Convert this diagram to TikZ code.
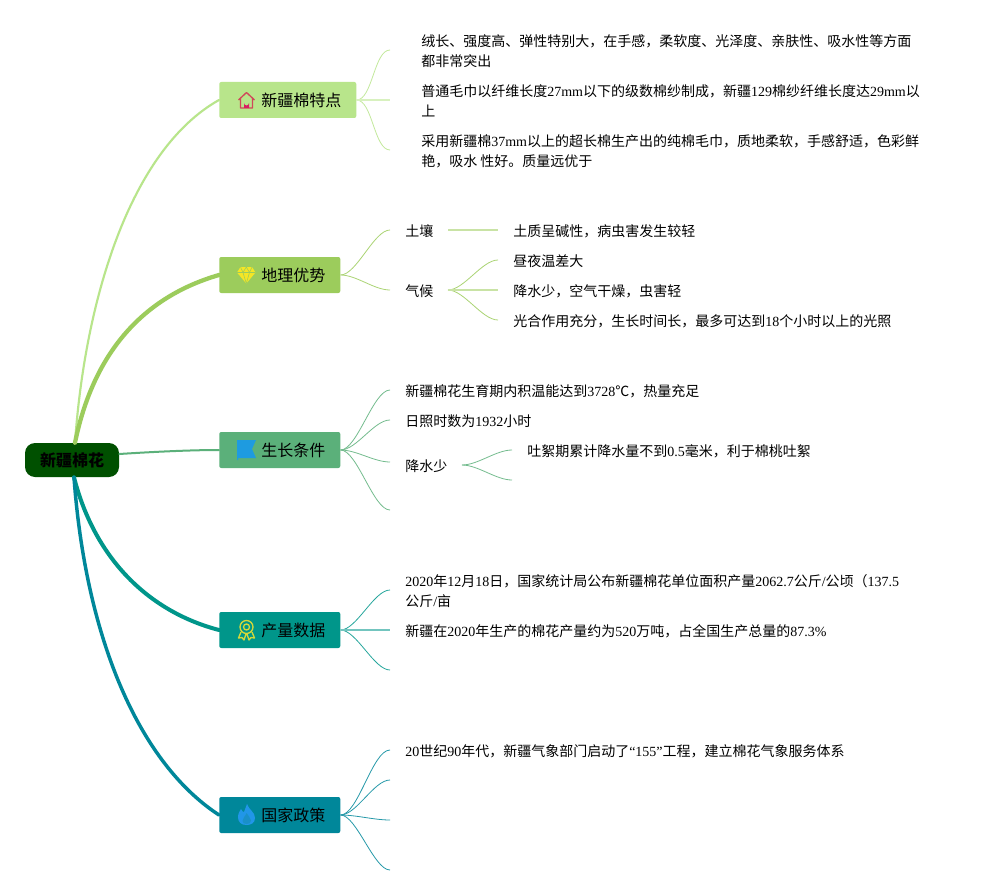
\documentclass[tikz,border=0pt]{standalone}
\usepackage{fontspec}
\setmainfont{Liberation Serif}
\newfontfamily\cjkfont{Noto Sans CJK SC}
\newcommand{\lat}[1]{{\rmfamily #1}}
\newcommand{\toptext}[1]{\kern31.5pt\raisebox{-1.1pt}{#1}\kern11.25pt}
\definecolor{ca}{HTML}{B8E58B}
\definecolor{cb}{HTML}{9CCC5C}
\definecolor{cc}{HTML}{5BB07A}
\definecolor{cd}{HTML}{00968A}
\definecolor{ce}{HTML}{00879A}
\definecolor{rootc}{HTML}{005000}
\definecolor{iconred}{HTML}{D0475A}
\definecolor{iconpink}{HTML}{D81B60}
\definecolor{iconyellow}{HTML}{F5E625}
\definecolor{iconblue}{HTML}{1E9BE0}
\definecolor{iconmedal}{HTML}{D4D83A}
\definecolor{iconflame}{HTML}{2196E8}
\definecolor{iconflamein}{HTML}{1A90C8}
\tikzset{
  rootbox/.style={draw=none,fill=rootc,rounded corners=7.5pt,minimum width=70.5pt,minimum height=25.5pt,inner sep=0pt,font=\cjkfont\bfseries\fontsize{12}{14}\selectfont,text=black},
  topic/.style={fill=#1,rounded corners=1.5pt,minimum height=27pt,inner sep=0pt,font=\cjkfont\fontsize{12}{14}\selectfont,text=black},
  leaf/.style={anchor=west,inner sep=0pt,align=left,font=\cjkfont\fontsize{10.5}{15}\selectfont,text=black},
  main/.style={draw=#1,line cap=round},
  sub/.style={draw=#1!85,line width=0.6pt,out=0,in=180,looseness=0.55,min distance=12pt},
  flat/.style={draw=#1!55,line width=1.2pt},
}
\begin{document}
\begin{tikzpicture}[x=0.75pt,y=-0.75pt]
\useasboundingbox (0,0) rectangle (981,895);
\fill[white] (0,0) rectangle (981,895);
% nodes
\node[rootbox] (root) at (72,460) {\raisebox{-0.75pt}{新疆棉花}};
\node[topic=ca,anchor=west] (t1) at (219,100) {\toptext{新疆棉特点}};
\node[topic=cb,anchor=west] (t2) at (219,275) {\toptext{地理优势}};
\node[topic=cc,anchor=west] (t3) at (219,450) {\toptext{生长条件}};
\node[topic=cd,anchor=west] (t4) at (219,630) {\toptext{产量数据}};
\node[topic=ce,anchor=west] (t5) at (219,815) {\toptext{国家政策}};
% leaves
\node[leaf] (a1) at (421,51) {绒长、强度高、弹性特别大，在手感，柔软度、光泽度、亲肤性、吸水性等方面\\都非常突出};
\node[leaf] (a2) at (421,101) {普通毛巾以纤维长度\lat{27mm}以下的级数棉纱制成，新疆\lat{129}棉纱纤维长度达\lat{29mm}以\\上};
\node[leaf] (a3) at (421,151) {采用新疆棉\lat{37mm}以上的超长棉生产出的纯棉毛巾，质地柔软，手感舒适，色彩鲜\\艳，吸水 性好。质量远优于};
\node[leaf] (b1) at (405,231) {土壤};
\node[leaf] (b2) at (405,291) {气候};
\node[leaf] (b11) at (513,231) {土质呈碱性，病虫害发生较轻};
\node[leaf] (b21) at (513,261) {昼夜温差大};
\node[leaf] (b22) at (513,291) {降水少，空气干燥，虫害轻};
\node[leaf] (b23) at (513,321) {光合作用充分，生长时间长，最多可达到\lat{18}个小时以上的光照};
\node[leaf] (c1) at (405,391) {新疆棉花生育期内积温能达到\lat{3728}℃，热量充足};
\node[leaf] (c2) at (405,421) {日照时数为\lat{1932}小时};
\node[leaf] (c3) at (405,466) {降水少};
\node[leaf] (c31) at (527,451) {吐絮期累计降水量不到\lat{0.5}毫米，利于棉桃吐絮};
\node[leaf] (d1) at (405,591) {\lat{2020}年\lat{12}月\lat{18}日，国家统计局公布新疆棉花单位面积产量\lat{2062.7}公斤\lat{/}公顷（\lat{137.5}\\公斤\lat{/}亩};
\node[leaf] (d2) at (405,631) {新疆在\lat{2020}年生产的棉花产量约为\lat{520}万吨，占全国生产总量的\lat{87.3\%}};
\node[leaf] (e1) at (405,751) {\lat{20}世纪\lat{90}年代，新疆气象部门启动了\lat{“155”}工程，建立棉花气象服务体系};
% free ends
\coordinate (xa1) at (390,50);
\coordinate (xa2) at (390,100);
\coordinate (xa3) at (390,150);
\coordinate (xb1) at (390,230);
\coordinate (xb2) at (390,290);
\coordinate (sb1) at (448,230);
\coordinate (eb1) at (498,230);
\coordinate (sb2) at (448,290);
\coordinate (eb21) at (498,260);
\coordinate (eb22) at (498,290);
\coordinate (eb23) at (498,320);
\coordinate (xc1) at (390,390);
\coordinate (xc2) at (390,420);
\coordinate (xc3) at (390,462);
\coordinate (xc4) at (390,510);
\coordinate (sc3) at (462,465);
\coordinate (ec31) at (512,450);
\coordinate (ec32) at (512,480);
\coordinate (xd1) at (390,590);
\coordinate (xd2) at (390,630);
\coordinate (xd3) at (390,670);
\coordinate (xe1) at (390,750);
\coordinate (xe2) at (390,780);
\coordinate (xe3) at (390,820);
\coordinate (xe4) at (390,870);
% main connectors
\draw[main=ca,line width=1.6pt] ([xshift=2.25pt]root.north) .. controls (85,300) and (130,150) .. (t1.west);
\draw[main=cb,line width=3.2pt] ([xshift=2.25pt]root.north) .. controls (95,345) and (150,295) .. (t2.west);
\draw[main=cc,line width=1.5pt] ([yshift=4.5pt]root.east) .. controls (150,452) and (190,450) .. (t3.west);
\draw[main=cd,line width=3pt] ([xshift=1.5pt]root.south) .. controls (95,560) and (150,612) .. (t4.west);
\draw[main=ce,line width=2.6pt] ([xshift=1.5pt]root.south) .. controls (85,630) and (135,760) .. (t5.west);
% sub connectors
\foreach \e in {xa1,xa3} \draw[sub=ca] (t1.east) to (\e);
\draw[flat=ca] (t1.east) -- (xa2);
\foreach \e in {xb1,xb2} \draw[sub=cb] (t2.east) to (\e);
\draw[flat=cb] (sb1) -- (eb1);
\foreach \e in {eb21,eb23} \draw[sub=cb] (sb2) to (\e);
\draw[flat=cb] (sb2) -- (eb22);
\foreach \e in {xc1,xc2,xc3,xc4} \draw[sub=cc] (t3.east) to (\e);
\foreach \e in {ec31,ec32} \draw[sub=cc] (sc3) to (\e);
\foreach \e in {xd1,xd3} \draw[sub=cd] (t4.east) to (\e);
\draw[flat=cd] (t4.east) -- (xd2);
\foreach \e in {xe1,xe2,xe3,xe4} \draw[sub=ce] (t5.east) to (\e);
% icons
\begin{scope}[line join=round]
  % house
  \draw[iconred,line width=1pt] (238.5,100) -- (246.5,92.5) -- (254.5,100) (240.5,98.5) -- (240.5,108) -- (252.5,108) -- (252.5,98.5);
  \fill[iconpink] (244,108) -- (244,103) arc[start angle=180,end angle=0,radius=2.5] -- (249,108) -- cycle;
  % diamond
  \fill[iconyellow] (240.5,267) -- (252,267) -- (255.5,272.5) -- (246.3,283.5) -- (237,272.5) -- cycle;
  \draw[cb,line width=0.4pt] (237,272.5) -- (255.5,272.5) (240.5,267) -- (243,272.5) -- (246.3,283.5) -- (249.5,272.5) -- (252,267) (243,272.5) -- (246.3,267) -- (249.5,272.5);
  % flag
  \fill[iconblue] (237,440) -- (256,440) -- (252,449) -- (256,458) -- (238,458) -- (238,460) -- (237,460) -- cycle;
  % medal
  \draw[iconmedal,line width=1pt] (246.5,627) circle[radius=6.5] (246.5,627) circle[radius=3];
  \draw[iconmedal,line width=1pt] (241,632) -- (238.5,638) -- (242,637.5) -- (244,640) -- (246,634) (252,632) -- (254.5,638) -- (251,637.5) -- (249,640) -- (247,634);
  % flame
  \fill[iconflame] (247,804) .. controls (249,810) and (255,812) .. (255,818) .. controls (255,823) and (251,825) .. (246.5,825) .. controls (241,825) and (238,822) .. (238,817) .. controls (238,813) and (240,811) .. (241,809) .. controls (242,811) and (243,812) .. (244,812) .. controls (245,809) and (246,807) .. (247,804) -- cycle;
  \fill[iconflamein] (246.5,813) .. controls (245,817) and (242.5,818) .. (242.5,821) .. controls (242.5,823) and (244.5,824) .. (246.5,824) .. controls (249,824) and (251,823) .. (251,820.5) .. controls (251,817) and (247.5,816) .. (246.5,813) -- cycle;
\end{scope}
\end{tikzpicture}
\end{document}
